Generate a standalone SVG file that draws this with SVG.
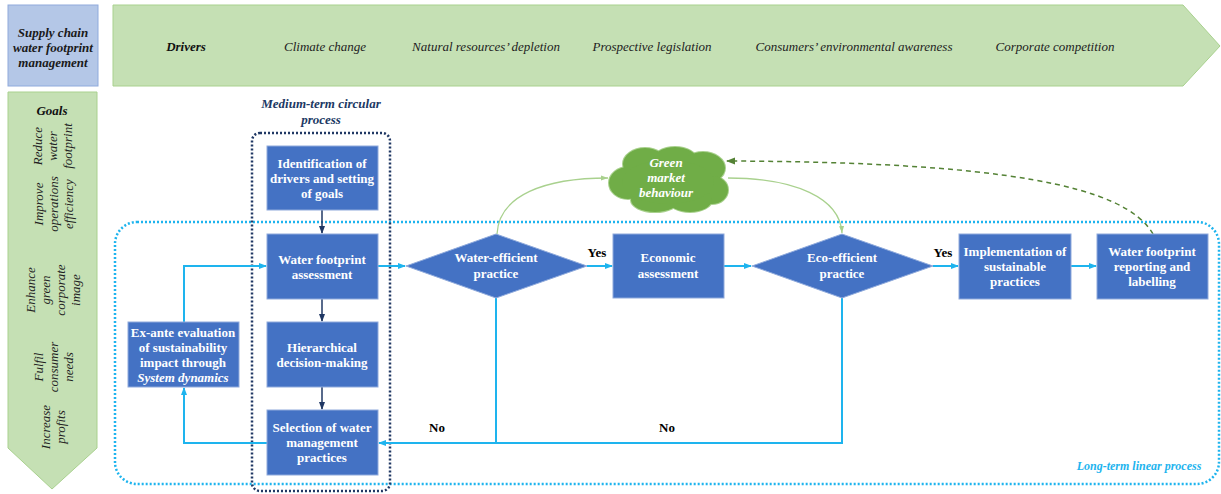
<svg xmlns="http://www.w3.org/2000/svg" width="1221" height="494" viewBox="0 0 1221 494">
<style>
text{font-family:'Liberation Serif','Times New Roman',Tinos,'DejaVu Serif','Noto Serif',serif}
.box{fill:#4472c4;stroke:#8faadc;stroke-width:1}
.bt{font-weight:bold;font-size:13px;fill:#fff;text-anchor:middle}
.it{font-style:italic;font-size:13px;fill:#222;text-anchor:middle}
.bi{font-style:italic;font-weight:bold;font-size:13px;text-anchor:middle}
.conn{fill:none;stroke:#1eb4ee;stroke-width:2}
.navy{fill:none;stroke:#203864;stroke-width:1.5}
.lbl{font-weight:bold;font-size:13px;fill:#000;text-anchor:middle}
</style>
<defs>
<marker id="ab" markerWidth="8" markerHeight="8" refX="7" refY="4" orient="auto" markerUnits="userSpaceOnUse"><path d="M0,1 L8,4 L0,7 Z" fill="#1eb4ee"/></marker>
<marker id="an" markerWidth="8" markerHeight="8" refX="7" refY="4" orient="auto" markerUnits="userSpaceOnUse"><path d="M0,1 L8,4 L0,7 Z" fill="#203864"/></marker>
<marker id="ag" markerWidth="8" markerHeight="8" refX="7" refY="4" orient="auto" markerUnits="userSpaceOnUse"><path d="M0,1.5 L7,4 L0,6.5 Z" fill="#a9d18e"/></marker>
<marker id="ad" markerWidth="9" markerHeight="9" refX="8" refY="4.5" orient="auto" markerUnits="userSpaceOnUse"><path d="M0,1 L9,4.5 L0,8 Z" fill="#548235"/></marker>
</defs>

<g id="header">
<rect x="8" y="5" width="90" height="81" fill="#b4c7e7" stroke="#8faadc"/>
<text class="bi" fill="#1a1a1a"><tspan x="53" y="37">Supply chain</tspan><tspan x="53" y="52">water footprint</tspan><tspan x="53" y="67">management</tspan></text>
</g>

<g id="drivers">
<polygon points="113,5 1183,5 1220,46 1183,86 113,86" fill="#c5e0b4" stroke="#a9d18e"/>
<text class="bi" fill="#111" x="186" y="51">Drivers</text>
<text class="it" x="325" y="51">Climate change</text>
<text class="it" x="486" y="51">Natural resources’ depletion</text>
<text class="it" x="652" y="51">Prospective legislation</text>
<text class="it" x="854" y="51">Consumers’ environmental awareness</text>
<text class="it" x="1055" y="51">Corporate competition</text>
</g>

<g id="goals">
<polygon points="8,92 97,92 97,448 52,489 8,448" fill="#c5e0b4" stroke="#a9d18e"/>
<text class="bi" fill="#111" x="52" y="115">Goals</text>
<g transform="translate(0,146) rotate(-90)"><text class="it"><tspan x="0" y="42">Reduce</tspan><tspan x="0" y="57">water</tspan><tspan x="0" y="72">footprint</tspan></text></g>
<g transform="translate(0,204) rotate(-90)"><text class="it"><tspan x="0" y="43">Improve</tspan><tspan x="0" y="58">operations</tspan><tspan x="0" y="73">efficiency</tspan></text></g>
<g transform="translate(0,290) rotate(-90)"><text class="it"><tspan x="0" y="35">Enhance</tspan><tspan x="0" y="50">green</tspan><tspan x="0" y="65">corporate</tspan><tspan x="0" y="80">image</tspan></text></g>
<g transform="translate(0,367) rotate(-90)"><text class="it"><tspan x="0" y="43">Fulfil</tspan><tspan x="0" y="58">consumer</tspan><tspan x="0" y="73">needs</tspan></text></g>
<g transform="translate(0,427) rotate(-90)"><text class="it"><tspan x="0" y="50">Increase</tspan><tspan x="0" y="65">profits</tspan></text></g>
</g>

<g id="long-term">
<rect x="115" y="222" width="1104" height="262" rx="22" fill="none" stroke="#1eb4ee" stroke-width="2.5" stroke-dasharray="2 2"/>
<text class="bi" fill="#1eb4ee" x="1139" y="470" style="font-size:12px">Long-term linear process</text>
</g>

<g id="medium-term">
<rect x="252" y="133" width="138" height="358" rx="8" fill="none" stroke="#203864" stroke-width="2.5" stroke-dasharray="2 2"/>
<text class="bi" fill="#203864"><tspan x="321" y="108">Medium-term circular</tspan><tspan x="321" y="124">process</tspan></text>
</g>

<g id="connectors">
<path class="navy" d="M322,210 V233" marker-end="url(#an)"/>
<path class="navy" d="M322,299 V321" marker-end="url(#an)"/>
<path class="navy" d="M322,387 V409" marker-end="url(#an)"/>
<path class="conn" d="M378,266 H405" marker-end="url(#ab)"/>
<path class="conn" d="M587,266 H612" marker-end="url(#ab)"/>
<path class="conn" d="M724,266 H751" marker-end="url(#ab)"/>
<path class="conn" d="M933,266 H958" marker-end="url(#ab)"/>
<path class="conn" d="M1071,266 H1096" marker-end="url(#ab)"/>
<path class="conn" d="M496,298 V443"/>
<path class="conn" d="M842,298 V443 H379" marker-end="url(#ab)"/>
<path class="conn" d="M267,443 H184 V388" marker-end="url(#ab)"/>
<path class="conn" d="M184,322 V266 H266" marker-end="url(#ab)"/>
<path d="M497,234 C499,195 545,178 608,178" fill="none" stroke="#a9d18e" stroke-width="1.3" marker-end="url(#ag)"/>
<path d="M728,178 C795,178 840,198 842,233" fill="none" stroke="#a9d18e" stroke-width="1.3" marker-end="url(#ag)"/>
<path d="M1153,234 C1125,185 1000,162 727,161" fill="none" stroke="#548235" stroke-width="1.5" stroke-dasharray="5 4" marker-end="url(#ad)"/>
<text class="lbl" x="597" y="257">Yes</text>
<text class="lbl" x="943" y="257">Yes</text>
<text class="lbl" x="437" y="432">No</text>
<text class="lbl" x="667" y="432">No</text>
</g>

<g id="identification">
<rect class="box" x="267" y="146" width="111" height="64"/>
<text class="bt"><tspan x="322" y="168">Identification of</tspan><tspan x="322" y="183">drivers and setting</tspan><tspan x="322" y="198">of goals</tspan></text>
</g>
<g id="wfa">
<rect class="box" x="267" y="234" width="111" height="65"/>
<text class="bt"><tspan x="322" y="264">Water footprint</tspan><tspan x="322" y="279">assessment</tspan></text>
</g>
<g id="hierarchical">
<rect class="box" x="267" y="322" width="111" height="65"/>
<text class="bt"><tspan x="322" y="352">Hierarchical</tspan><tspan x="322" y="367">decision-making</tspan></text>
</g>
<g id="selection">
<rect class="box" x="267" y="410" width="111" height="65"/>
<text class="bt"><tspan x="322" y="432">Selection of water</tspan><tspan x="322" y="447">management</tspan><tspan x="322" y="462">practices</tspan></text>
</g>
<g id="exante">
<rect class="box" x="128" y="322" width="111" height="65"/>
<text class="bt"><tspan x="183" y="337">Ex-ante evaluation</tspan><tspan x="183" y="352">of sustainability</tspan><tspan x="183" y="367">impact through</tspan><tspan x="183" y="382" font-style="italic">System dynamics</tspan></text>
</g>
<g id="water-efficient">
<polygon class="box" points="406,266 496,234 587,266 496,298"/>
<text class="bt"><tspan x="496" y="262">Water-efficient</tspan><tspan x="496" y="278">practice</tspan></text>
</g>
<g id="economic">
<rect class="box" x="613" y="234" width="111" height="64"/>
<text class="bt"><tspan x="668" y="262">Economic</tspan><tspan x="668" y="278">assessment</tspan></text>
</g>
<g id="eco-efficient">
<polygon class="box" points="752,266 842,234 933,266 842,298"/>
<text class="bt"><tspan x="842" y="262">Eco-efficient</tspan><tspan x="842" y="278">practice</tspan></text>
</g>
<g id="implementation">
<rect class="box" x="959" y="234" width="112" height="65"/>
<text class="bt"><tspan x="1015" y="256">Implementation of</tspan><tspan x="1015" y="271">sustainable</tspan><tspan x="1015" y="286">practices</tspan></text>
</g>
<g id="reporting">
<rect class="box" x="1097" y="234" width="111" height="65"/>
<text class="bt"><tspan x="1152" y="256">Water footprint</tspan><tspan x="1152" y="271">reporting and</tspan><tspan x="1152" y="286">labelling</tspan></text>
</g>
<g id="cloud">
<g fill="#70ad47" stroke="#a9d18e" stroke-width="2">
<ellipse cx="628" cy="183" rx="19" ry="16"/>
<ellipse cx="645" cy="164" rx="22" ry="16"/>
<ellipse cx="675" cy="160" rx="22" ry="13"/>
<ellipse cx="703" cy="168" rx="22" ry="16"/>
<ellipse cx="712" cy="190" rx="16" ry="14"/>
<ellipse cx="690" cy="200" rx="22" ry="12"/>
<ellipse cx="655" cy="200" rx="24" ry="12"/>
</g>
<g fill="#70ad47">
<ellipse cx="628" cy="183" rx="19" ry="16"/>
<ellipse cx="645" cy="164" rx="22" ry="16"/>
<ellipse cx="675" cy="160" rx="22" ry="13"/>
<ellipse cx="703" cy="168" rx="22" ry="16"/>
<ellipse cx="712" cy="190" rx="16" ry="14"/>
<ellipse cx="690" cy="200" rx="22" ry="12"/>
<ellipse cx="655" cy="200" rx="24" ry="12"/>
<ellipse cx="668" cy="182" rx="46" ry="22"/>
</g>
<text class="bi" fill="#fff"><tspan x="666" y="167">Green</tspan><tspan x="666" y="182">market</tspan><tspan x="666" y="197">behaviour</tspan></text>
</g>
</svg>
